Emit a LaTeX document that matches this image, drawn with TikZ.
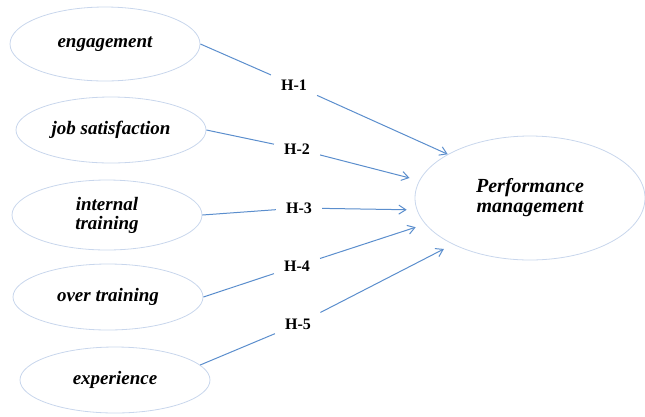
\documentclass[tikz,border=0pt]{standalone}
\usepackage{fontspec}
\setmainfont{Liberation Serif}
\usetikzlibrary{arrows.meta,shapes.geometric}
\definecolor{edgeBlue}{RGB}{91,142,205}
\definecolor{ovalBlue}{RGB}{200,214,236}
\tikzset{
  factor node/.style={ellipse,draw=ovalBlue,line width=0.8pt,inner sep=0pt,align=center,font=\fontsize{19}{19}\selectfont\bfseries\itshape,minimum width=190pt,minimum height=68pt},
  target node/.style={factor node,font=\fontsize{20}{20}\selectfont\bfseries\itshape,minimum width=230pt,minimum height=124pt},
  hyp label/.style={font=\fontsize{16}{18}\selectfont\bfseries,inner xsep=10pt,inner ysep=6pt},
  link/.style={draw=edgeBlue,line width=1pt},
  link arrow/.style={-{Straight Barb[length=7pt,width=9pt]},draw=edgeBlue,line width=1pt,shorten >=10pt}
}

\begin{document}
\begin{tikzpicture}[x=1pt,y=-1pt]
  \useasboundingbox (0,0) rectangle (645,416);
  \node[factor node,minimum height=74pt] (engage) at (105,44) {engagement};
  \node[factor node,minimum height=66pt] (jobsat) at (111,130) {job satisfaction};
  \node[factor node,minimum height=70pt] (intern) at (107,215) {internal\\training};
  \node[factor node,minimum height=66pt] (overtr) at (108,297) {over training};
  \node[factor node,minimum height=66pt] (exper) at (115,380) {experience};
  \node[target node] (perf) at (530,198) {Performance\\management};
  % hypothesis labels
  \node[hyp label] (h1) at (294,85) {H-1};
  \node[hyp label] (h2) at (297,149) {H-2};
  \node[hyp label] (h3) at (299,208) {H-3};
  \node[hyp label] (h4) at (297,266) {H-4};
  \node[hyp label] (h5) at (298,324) {H-5};
  \draw[link] (engage.east) -- (h1);
  \draw[link] (jobsat.east) -- (h2);
  \draw[link] (intern.east) -- (h3);
  \draw[link] (overtr.east) -- (h4);
  \draw[link] (exper.10) -- (h5);
  \draw[link arrow,shorten >=0pt] (h1) -- (perf.152);
  \draw[link arrow] (h2) -- (perf.171);
  \draw[link arrow] (h3) -- (perf.186);
  \draw[link arrow] (h4) -- (perf.194);
  \draw[link arrow] (h5) -- (perf.211);
\end{tikzpicture}
\end{document}
